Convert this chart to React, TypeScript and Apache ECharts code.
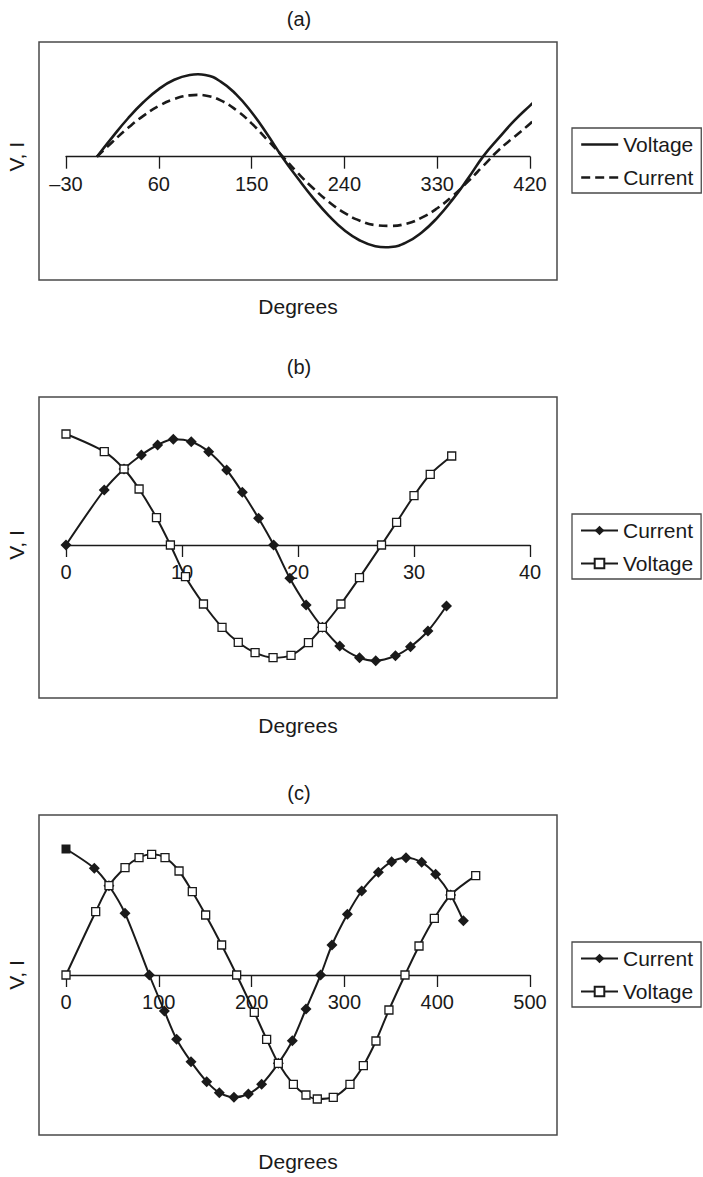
import React, { useEffect, useRef } from "react";
import * as echarts from "echarts";

// ---------- Panel (a): smooth sine curves ----------
const A_TICKS = [-30, 60, 150, 240, 330, 420];
const A_VOLT_X = [0, 15, 30, 45, 60, 75, 90, 98, 105, 120, 135, 150, 165, 180, 195, 210, 225, 240, 255, 270, 280, 285, 300, 315, 330, 345, 360, 375, 390, 405, 420, 428];
const A_VOLT_Y = [0, 0.196, 0.382, 0.544, 0.676, 0.769, 0.817, 0.824, 0.817, 0.751, 0.623, 0.444, 0.227, -0.008, -0.218, -0.416, -0.591, -0.735, -0.838, -0.895, -0.906, -0.903, -0.857, -0.757, -0.611, -0.427, -0.216, 0.008, 0.19, 0.363, 0.511, 0.585];
const A_CUR_X = [0, 15, 30, 45, 60, 75, 90, 98, 105, 120, 135, 150, 165, 180, 195, 210, 225, 240, 255, 270, 284, 300, 315, 330, 345, 360, 375, 390, 405, 420, 428];
const A_CUR_Y = [0, 0.147, 0.286, 0.408, 0.507, 0.577, 0.613, 0.618, 0.612, 0.563, 0.467, 0.333, 0.171, 0.004, -0.165, -0.318, -0.452, -0.561, -0.64, -0.684, -0.692, -0.67, -0.61, -0.516, -0.392, -0.247, -0.088, 0.07, 0.2, 0.33, 0.407];

// ---------- Panel (b) ----------
const B_CUR_X = [0, 3.3, 5.0, 6.5, 7.9, 9.25, 10.8, 12.3, 13.85, 15.2, 16.6, 17.9, 19.3, 20.7, 22.1, 23.6, 25.3, 26.7, 28.4, 29.7, 31.2, 32.8];
const B_CUR_Y = [0, 0.55, 0.76, 0.9, 1.0, 1.057, 1.033, 0.933, 0.75, 0.527, 0.267, 0, -0.333, -0.6, -0.823, -1.01, -1.127, -1.157, -1.107, -1.017, -0.86, -0.61];
const B_VOLT_X = [0, 3.3, 5.0, 6.3, 7.8, 9.0, 10.3, 11.85, 13.45, 14.85, 16.3, 17.85, 19.4, 20.9, 22.1, 23.7, 25.3, 27.2, 28.5, 30.0, 31.4, 33.25];
const B_VOLT_Y = [1.11, 0.933, 0.76, 0.56, 0.273, 0, -0.317, -0.59, -0.823, -0.973, -1.077, -1.127, -1.103, -0.977, -0.823, -0.59, -0.327, 0, 0.227, 0.493, 0.707, 0.89];

// ---------- Panel (c) ----------
const C_CUR_X = [0, 30.5, 46.3, 63.6, 89.8, 106, 119.2, 134.7, 151.6, 165.2, 181, 196.5, 210.8, 228.8, 243.9, 258.6, 274.4, 286.6, 303.2, 318.6, 336.6, 350.9, 366.4, 383.3, 398.3, 414.5, 428.2];
const C_CUR_Y = [1.26, 1.067, 0.893, 0.617, 0, -0.36, -0.643, -0.867, -1.067, -1.177, -1.223, -1.19, -1.093, -0.883, -0.657, -0.34, 0, 0.3, 0.607, 0.84, 1.027, 1.133, 1.173, 1.127, 1.007, 0.8, 0.543];
const C_VOLT_X = [0, 32, 46.3, 63.6, 78.7, 92.3, 106.7, 121.8, 136.1, 150.5, 167.7, 183.9, 202.9, 216.2, 228.8, 245, 258.6, 270.8, 288, 306, 320.4, 334, 348, 365.3, 380.4, 396.9, 414.5, 441.5];
const C_VOLT_Y = [0, 0.633, 0.893, 1.073, 1.173, 1.207, 1.173, 1.04, 0.833, 0.6, 0.3, 0, -0.373, -0.643, -0.883, -1.093, -1.2, -1.24, -1.223, -1.093, -0.907, -0.66, -0.35, 0, 0.29, 0.567, 0.8, 0.993];

const PANEL_TITLES = ["(a)", "(b)", "(c)"];
const X_NAME = "Degrees";
const Y_NAME = "V, I";

const FONT = '"Liberation Sans", Arial, Helvetica, sans-serif';
const INK = "#1a1a1a";
const FRAME = "#4a4a4a";

const zip = (xs: number[], ys: number[]) => xs.map((x, i) => [x, ys[i]]);

export default function App() {
  const ref = useRef<HTMLDivElement>(null);

  useEffect(() => {
    if (!ref.current) return;
    const chart = echarts.init(ref.current, undefined, { renderer: "svg" });

    // Each grid spans from the frame top down to the zero line (where the x axis sits);
    // negative values are drawn below it (clip: false).
    const gridBase = { containLabel: false, outerBoundsMode: "none" };
    const grids = [
      { ...gridBase, left: 66, top: 42, width: 464, height: 114.7 },
      { ...gridBase, left: 66, top: 397, width: 464, height: 148 },
      { ...gridBase, left: 66, top: 815, width: 464, height: 160 },
    ];
    const frames = [
      { x: 39, y: 42, w: 518, h: 238 },
      { x: 39, y: 397, w: 518, h: 301 },
      { x: 39, y: 815, w: 518, h: 320 },
    ];
    const titleY = [19, 367, 793];
    const axisY = [156.7, 545, 975];

    const baseX = (gi: number, gap: number) => ({
      gridIndex: gi,
      type: "value" as const,
      position: "bottom" as const,
      axisLine: { onZero: false, lineStyle: { color: INK, width: 1.3 } },
      axisTick: { show: true, length: 12, lineStyle: { color: INK, width: 1.3 } },
      axisLabel: { fontSize: 20, color: INK, fontFamily: FONT, margin: 17 },
      splitLine: { show: false },
      name: X_NAME,
      nameLocation: "middle" as const,
      nameGap: gap,
      nameTextStyle: { fontSize: 21, color: INK, fontFamily: FONT },
    });

    const fmt = (v: number) => (v < 0 ? "\u2013" + Math.abs(v) : String(v));

    const xAxis = [
      {
        ...baseX(0, 139),
        min: -30,
        max: 420,
        axisTick: { show: true, length: 12, customValues: A_TICKS, lineStyle: { color: INK, width: 1.3 } },
        axisLabel: { fontSize: 20, color: INK, fontFamily: FONT, margin: 17, customValues: A_TICKS, formatter: fmt },
      },
      { ...baseX(1, 170), min: 0, max: 40, interval: 10 },
      { ...baseX(2, 176), min: 0, max: 500, interval: 100 },
    ];

    const baseY = (gi: number, max: number) => ({
      gridIndex: gi,
      type: "value" as const,
      min: 0,
      max,
      axisLine: { show: false },
      axisTick: { show: false },
      axisLabel: { show: false },
      splitLine: { show: false },
    });

    const yAxis = [baseY(0, 1.147), baseY(1, 1.48), baseY(2, 1.6)];

    const diamondSeries = (name: string, gi: number, data: any[]) => ({
      name,
      type: "line" as const,
      xAxisIndex: gi,
      yAxisIndex: gi,
      data,
      smooth: 0.3,
      clip: false,
      symbol: "diamond",
      symbolSize: 11,
      itemStyle: { color: INK },
      lineStyle: { color: INK, width: 2 },
      z: 2,
    });
    const squareSeries = (name: string, gi: number, data: any[]) => ({
      name,
      type: "line" as const,
      xAxisIndex: gi,
      yAxisIndex: gi,
      data,
      smooth: 0.3,
      clip: false,
      symbol: "rect",
      symbolSize: 8,
      itemStyle: { color: "#ffffff", borderColor: INK, borderWidth: 1.3 },
      lineStyle: { color: INK, width: 2 },
      z: 3,
    });

    const cCur: any[] = zip(C_CUR_X, C_CUR_Y);
    cCur[0] = { value: cCur[0], symbol: "rect", symbolSize: 9 };

    const series = [
      {
        name: "a:Voltage",
        type: "line" as const,
        xAxisIndex: 0,
        yAxisIndex: 0,
        data: zip(A_VOLT_X, A_VOLT_Y),
        smooth: true,
        clip: false,
        symbol: "none",
        showSymbol: false,
        itemStyle: { color: INK },
        lineStyle: { color: INK, width: 2.6 },
      },
      {
        name: "a:Current",
        type: "line" as const,
        xAxisIndex: 0,
        yAxisIndex: 0,
        data: zip(A_CUR_X, A_CUR_Y),
        smooth: true,
        clip: false,
        symbol: "none",
        showSymbol: false,
        itemStyle: { color: INK },
        lineStyle: { color: INK, width: 2.6, type: [9, 5] },
      },
      diamondSeries("b:Current", 1, zip(B_CUR_X, B_CUR_Y)),
      squareSeries("b:Voltage", 1, zip(B_VOLT_X, B_VOLT_Y)),
      diamondSeries("c:Current", 2, cCur),
      squareSeries("c:Voltage", 2, zip(C_VOLT_X, C_VOLT_Y)),
    ];

    const legendBase = (data: string[], top: number) => ({
      data,
      orient: "vertical" as const,
      left: 572,
      top,
      itemGap: 12,
      itemWidth: 37,
      itemHeight: 12,
      borderColor: FRAME,
      borderWidth: 1.3,
      borderRadius: 0,
      padding: [6, 8, 5, 8],
      selectedMode: false,
      formatter: (n: string) => n.split(":")[1],
      textStyle: { fontSize: 21, color: INK, fontFamily: FONT, lineHeight: 21 },
    });

    const graphic: any[] = [];
    frames.forEach((f) => {
      graphic.push({
        type: "rect",
        shape: { x: f.x, y: f.y, width: f.w, height: f.h },
        style: { fill: "none", stroke: FRAME, lineWidth: 1.5 },
        silent: true,
        z: 0,
      });
    });
    PANEL_TITLES.forEach((t, i) => {
      graphic.push({
        type: "text",
        x: 299,
        y: titleY[i],
        style: { text: t, fontSize: 20, fontFamily: FONT, fill: INK, align: "center", verticalAlign: "middle" },
      });
      graphic.push({
        type: "text",
        x: 16,
        y: axisY[i],
        rotation: Math.PI / 2,
        style: { text: Y_NAME, fontSize: 21, fontFamily: FONT, fill: INK, align: "center", verticalAlign: "middle" },
      });
    });

    chart.setOption({
      animation: false,
      backgroundColor: "#ffffff",
      textStyle: { fontFamily: FONT },
      grid: grids,
      xAxis,
      yAxis,
      series,
      legend: [
        { ...legendBase(["a:Voltage", "a:Current"], 128), itemStyle: { opacity: 0 }, lineStyle: { width: 2.4 } },
        { ...legendBase(["b:Current", "b:Voltage"], 514), lineStyle: { width: 2 } },
        { ...legendBase(["c:Current", "c:Voltage"], 942), lineStyle: { width: 2 } },
      ],
      graphic,
    });

    return () => chart.dispose();
  }, []);

  return (
    <div
      ref={ref}
      style={{ position: "absolute", left: 0, top: 0, width: 703, height: 1177, background: "#fff" }}
    />
  );
}
